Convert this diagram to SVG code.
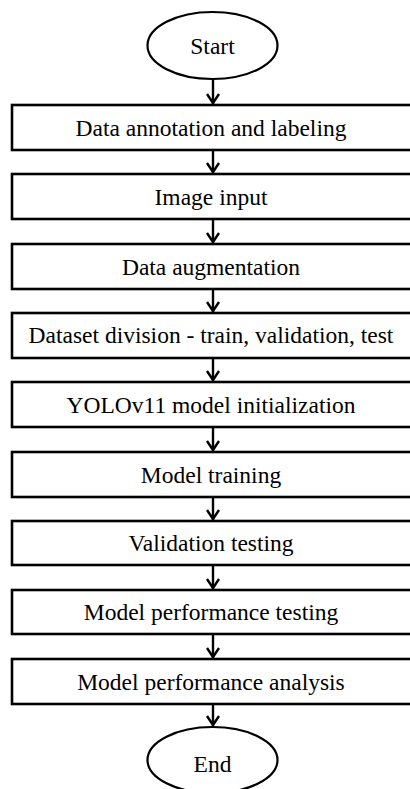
<svg xmlns="http://www.w3.org/2000/svg" width="410" height="789" viewBox="0 0 410 789">
  <style>
    .box { fill: #fff; stroke: #000; stroke-width: 2.6; }
    .term { fill: #fff; stroke: #000; stroke-width: 2.2; }
    .lbl { font-family: "Liberation Serif", "Times New Roman", serif; font-size: 23.5px; fill: #000; text-anchor: middle; }
    .conn { stroke: #000; stroke-width: 2.4; fill: none; }
  </style>
  <rect width="410" height="789" fill="#fff"/>

  <g id="connectors">
    <line class="conn" x1="213" y1="79" x2="213" y2="104"/>
    <line class="conn" x1="213" y1="151" x2="213" y2="173"/>
    <line class="conn" x1="213" y1="220" x2="213" y2="243"/>
    <line class="conn" x1="213" y1="290" x2="213" y2="312"/>
    <line class="conn" x1="213" y1="359" x2="213" y2="381"/>
    <line class="conn" x1="213" y1="428" x2="213" y2="451"/>
    <line class="conn" x1="213" y1="498" x2="213" y2="520"/>
    <line class="conn" x1="213" y1="566" x2="213" y2="589"/>
    <line class="conn" x1="213" y1="635" x2="213" y2="658"/>
    <line class="conn" x1="213" y1="705" x2="213" y2="726"/>
    <!-- open chevron heads -->
    <path class="conn" d="M207,94 L213,103 L219,94"/>
    <path class="conn" d="M207,163 L213,172 L219,163"/>
    <path class="conn" d="M207,233 L213,242 L219,233"/>
    <path class="conn" d="M207,302 L213,311 L219,302"/>
    <path class="conn" d="M207,371 L213,380 L219,371"/>
    <path class="conn" d="M207,441 L213,450 L219,441"/>
    <path class="conn" d="M207,510 L213,519 L219,510"/>
    <path class="conn" d="M207,579 L213,588 L219,579"/>
    <path class="conn" d="M207,648 L213,657 L219,648"/>
    <path class="conn" d="M207,716 L213,725 L219,716"/>
  </g>

  <g id="start">
    <ellipse class="term" cx="212.5" cy="45.5" rx="65" ry="33.5"/>
    <text class="lbl" x="212.5" y="54">Start</text>
  </g>
  <g id="step1">
    <rect class="box" x="12" y="105" width="402" height="45"/>
    <text class="lbl" x="211" y="136">Data annotation and labeling</text>
  </g>
  <g id="step2">
    <rect class="box" x="12" y="174" width="402" height="45"/>
    <text class="lbl" x="211" y="205">Image input</text>
  </g>
  <g id="step3">
    <rect class="box" x="12" y="244" width="402" height="45"/>
    <text class="lbl" x="211" y="275">Data augmentation</text>
  </g>
  <g id="step4">
    <rect class="box" x="12" y="313" width="402" height="45"/>
    <text class="lbl" x="211" y="343">Dataset division - train, validation, test</text>
  </g>
  <g id="step5">
    <rect class="box" x="12" y="382" width="402" height="45"/>
    <text class="lbl" x="211" y="413">YOLOv11 model initialization</text>
  </g>
  <g id="step6">
    <rect class="box" x="12" y="452" width="402" height="45"/>
    <text class="lbl" x="211" y="483">Model training</text>
  </g>
  <g id="step7">
    <rect class="box" x="12" y="521" width="402" height="44"/>
    <text class="lbl" x="211" y="551">Validation testing</text>
  </g>
  <g id="step8">
    <rect class="box" x="12" y="590" width="402" height="44"/>
    <text class="lbl" x="211" y="620">Model performance testing</text>
  </g>
  <g id="step9">
    <rect class="box" x="12" y="659" width="402" height="45"/>
    <text class="lbl" x="211" y="690">Model performance analysis</text>
  </g>
  <g id="end">
    <ellipse class="term" cx="212.5" cy="760" rx="65" ry="33"/>
    <text class="lbl" x="212.5" y="772">End</text>
  </g>
</svg>
